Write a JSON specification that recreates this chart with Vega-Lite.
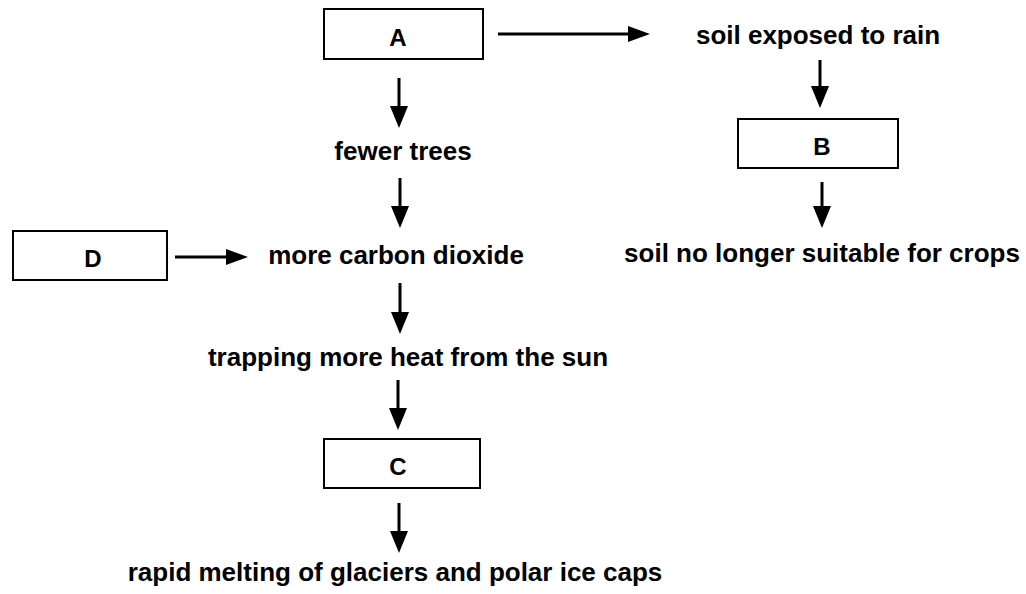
{
  "$schema": "https://vega.github.io/schema/vega-lite/v6.json",
  "width": 1026,
  "height": 594,
  "autosize": {"type": "fit", "contains": "padding"},
  "padding": 0,
  "background": "white",
  "view": {"stroke": null},
  "config": {"axis": {"disable": true}},
  "datasets": {
    "boxes": [
      {"label": "A", "x1": 324, "x2": 483, "y1": 9, "y2": 59, "lx": 398, "ly": 46},
      {"label": "B", "x1": 738, "x2": 898, "y1": 119, "y2": 168, "lx": 822, "ly": 155},
      {"label": "C", "x1": 324, "x2": 480, "y1": 439, "y2": 488, "lx": 398, "ly": 475},
      {"label": "D", "x1": 13, "x2": 167, "y1": 231, "y2": 280, "lx": 93, "ly": 267}
    ],
    "shafts": [
      {"x1": 498, "y1": 34, "x2": 640, "y2": 34},
      {"x1": 399, "y1": 78, "x2": 399, "y2": 117},
      {"x1": 820, "y1": 60, "x2": 820, "y2": 97},
      {"x1": 822, "y1": 182, "x2": 822, "y2": 217},
      {"x1": 400, "y1": 178, "x2": 400, "y2": 217},
      {"x1": 175, "y1": 257, "x2": 238, "y2": 257},
      {"x1": 400, "y1": 283, "x2": 400, "y2": 323},
      {"x1": 398, "y1": 380, "x2": 398, "y2": 419},
      {"x1": 399, "y1": 503, "x2": 399, "y2": 542}
    ],
    "heads": [
      {"x": 639, "y": 34, "dir": "right"},
      {"x": 399, "y": 117, "dir": "down"},
      {"x": 820, "y": 97, "dir": "down"},
      {"x": 822, "y": 217, "dir": "down"},
      {"x": 400, "y": 217, "dir": "down"},
      {"x": 237, "y": 257, "dir": "right"},
      {"x": 400, "y": 323, "dir": "down"},
      {"x": 398, "y": 419, "dir": "down"},
      {"x": 399, "y": 542, "dir": "down"}
    ],
    "texts": [
      {"text": "soil exposed to rain", "x": 818, "y": 44},
      {"text": "fewer trees", "x": 403, "y": 160},
      {"text": "more carbon dioxide", "x": 396, "y": 264},
      {"text": "soil no longer suitable for crops", "x": 822, "y": 262},
      {"text": "trapping more heat from the sun", "x": 408, "y": 366},
      {"text": "rapid melting of glaciers and polar ice caps", "x": 395, "y": 581}
    ]
  },
  "layer": [
    {
      "data": {"name": "boxes"},
      "mark": {"type": "rect", "fill": "white", "stroke": "black", "strokeWidth": 2},
      "encoding": {
        "x": {"field": "x1", "type": "quantitative", "scale": {"domain": [0, 1026], "nice": false, "zero": false}},
        "x2": {"field": "x2"},
        "y": {"field": "y1", "type": "quantitative", "scale": {"domain": [0, 594], "nice": false, "zero": false, "reverse": true}},
        "y2": {"field": "y2"}
      }
    },
    {
      "data": {"name": "boxes"},
      "mark": {"type": "text", "font": "Liberation Sans", "fontWeight": "bold", "fontSize": 24, "align": "center", "baseline": "alphabetic", "color": "black"},
      "encoding": {
        "x": {"field": "lx", "type": "quantitative", "scale": {"domain": [0, 1026], "nice": false, "zero": false}},
        "y": {"field": "ly", "type": "quantitative", "scale": {"domain": [0, 594], "nice": false, "zero": false, "reverse": true}},
        "text": {"field": "label"}
      }
    },
    {
      "data": {"name": "shafts"},
      "mark": {"type": "rule", "stroke": "black", "strokeWidth": 3},
      "encoding": {
        "x": {"field": "x1", "type": "quantitative", "scale": {"domain": [0, 1026], "nice": false, "zero": false}},
        "x2": {"field": "x2"},
        "y": {"field": "y1", "type": "quantitative", "scale": {"domain": [0, 594], "nice": false, "zero": false, "reverse": true}},
        "y2": {"field": "y2"}
      }
    },
    {
      "data": {"name": "heads"},
      "mark": {"type": "point", "filled": true, "color": "black", "opacity": 1, "size": 484, "strokeWidth": 0},
      "encoding": {
        "x": {"field": "x", "type": "quantitative", "scale": {"domain": [0, 1026], "nice": false, "zero": false}},
        "y": {"field": "y", "type": "quantitative", "scale": {"domain": [0, 594], "nice": false, "zero": false, "reverse": true}},
        "shape": {
          "field": "dir", "type": "nominal", "legend": null,
          "scale": {"domain": ["down", "right"], "range": ["M-0.82,-1L0.82,-1L0,1Z", "M-1,-0.73L-1,0.73L1,0Z"]}
        }
      }
    },
    {
      "data": {"name": "texts"},
      "mark": {"type": "text", "font": "Liberation Sans", "fontWeight": "bold", "fontSize": 26, "align": "center", "baseline": "alphabetic", "color": "black"},
      "encoding": {
        "x": {"field": "x", "type": "quantitative", "scale": {"domain": [0, 1026], "nice": false, "zero": false}},
        "y": {"field": "y", "type": "quantitative", "scale": {"domain": [0, 594], "nice": false, "zero": false, "reverse": true}},
        "text": {"field": "text"}
      }
    }
  ]
}
